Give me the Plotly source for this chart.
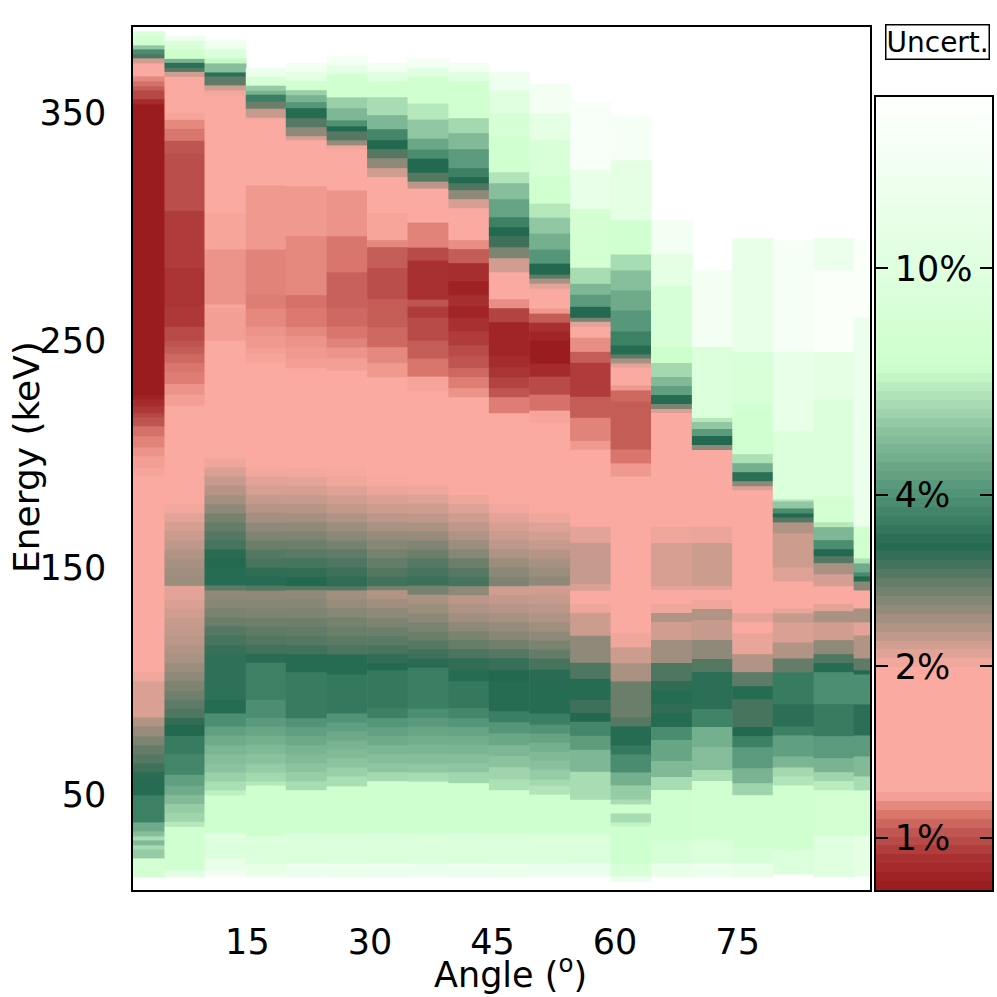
import numpy as np
import plotly.graph_objects as go

# angle bin edges (deg), first and last get clipped by the axis range
ANGLE_EDGES = [-0.2, 4.85, 9.75, 14.8, 19.7, 24.7, 29.65, 34.6, 39.6, 44.55, 49.5, 54.5,
               59.45, 64.4, 69.4, 74.35, 79.3, 84.3, 89.2, 94.2]

E0 = [386,384,380,378,376,374,372,366,364,362,360,356,354,226,224,221,218,216,212,208,203,199,194,190,104,100,84,80,76,72,68,64,60,56,50,38,34,32,30,28,26,22,14]
U0 = [9,7,5.2,3.8,2.9,2.15,1.5,1.12,1.07,1.02,.96,.87,.81,.83,.88,.92,.96,1.0,1.07,1.11,1.14,1.16,1.17,1.5,2.0,2.1,2.3,2.45,2.6,2.75,2.85,3.0,3.15,3.25,3.6,4.5,5.0,5.7,4.9,5.7,5.3,7.5]

E1 = [384,382,378,374,372,370,368,366,364,350,347,343,338,332,307,282,265,256,250,247,244,240,236,231,226,221,178,174,170,166,162,158,154,150,146,142,140,136,132,128,124,120,116,112,108,104,100,96,92,88,84,81,76,68,59,54,50,46,42,38,36,17,14]
U1 = [14,9,6.6,4.7,3.3,2.85,2.15,1.95,1.5,1.17,1.12,1.08,1.0,.98,.93,.91,.92,.97,1.0,1.02,1.05,1.08,1.1,1.14,1.16,1.5,1.98,2.05,2.12,2.18,2.24,2.3,2.36,2.4,2.42,2.05,2.05,2.1,2.15,2.2,2.22,2.26,2.3,2.35,2.42,2.5,2.6,2.68,2.8,2.9,3.1,3.2,3.5,3.7,4.2,4.5,4.9,5.3,5.5,6.0,7,10]

E2 = [382,378,374,372,368,366,362,360,358,306,290,266,264,250,198,194,190,186,182,178,174,170,166,162,158,154,150,146,142,140,136,132,128,124,120,116,112,92,86,80,76,72,68,64,60,56,52,50,33,31,22,17,14]
U2 = [14,9,6.4,5,3.3,2.8,2.15,1.98,1.5,1.17,1.14,1.17,1.16,1.5,2.0,2.1,2.2,2.28,2.38,2.5,2.65,2.75,2.85,2.95,3.15,3.22,3.25,3.25,2.8,2.5,2.55,2.62,2.72,2.85,2.95,3.05,3.35,3.25,3.85,4.2,4.5,4.75,4.95,5.1,5.4,5.75,6.2,6.8,11,9,12,15]

E3 = [370,366,362,360,358,355,352,348,347,318,290,270,264,256,252,247,244,240,194,190,186,182,178,174,170,166,162,158,154,150,146,142,140,136,132,128,124,120,116,112,108,92,84,80,76,72,68,64,60,56,54,32,20,14]
U3 = [13,8,5.3,4.7,3.55,2.7,2.2,1.98,1.5,1.15,1.11,1.1,1.12,1.14,1.15,1.16,1.17,1.5,1.98,2.05,2.12,2.2,2.28,2.38,2.5,2.6,2.72,2.85,2.95,3.1,3.25,2.85,2.5,2.55,2.6,2.7,2.8,2.88,2.98,3.15,3.6,3.85,4.1,4.35,4.6,4.85,5.05,5.3,5.6,6.0,6.8,9,12]

E4 = [372,368,364,360,358,355,352,348,344,340,338,318,296,270,264,256,252,247,242,238,194,190,186,182,178,174,170,166,162,158,154,150,146,142,140,136,132,128,124,120,116,112,104,84,80,76,72,68,64,60,56,52,33,20,14]
U4 = [15,11,7,5.4,4.7,4,3.25,2.85,2.5,2.12,1.5,1.15,1.12,1.07,1.09,1.12,1.14,1.15,1.16,1.5,1.98,2.05,2.12,2.2,2.28,2.38,2.48,2.58,2.7,2.82,2.95,3.1,3.2,2.85,2.5,2.55,2.6,2.7,2.78,2.86,2.98,3.25,3.5,3.95,4.2,4.45,4.7,4.9,5.1,5.35,5.7,6.8,9,13]

E5 = [375,371,367,357,352,347,344,342,338,336,334,316,296,280,264,256,251,247,242,237,194,190,186,182,178,174,170,166,162,158,154,150,146,142,140,136,132,128,124,120,116,112,103,86,82,78,74,70,66,62,58,54,33,20,14]
U5 = [15,11,7,5.4,4.8,3.9,3.2,2.85,2.45,2.0,1.5,1.14,1.08,1.03,1.05,1.08,1.11,1.14,1.16,1.5,1.96,2.0,2.08,2.15,2.22,2.32,2.42,2.52,2.65,2.78,2.9,3.0,3.1,2.85,2.4,2.45,2.55,2.65,2.72,2.82,2.92,3.25,3.45,3.95,4.2,4.45,4.7,4.9,5.1,5.4,5.75,6.8,9,13]

E6 = [372,368,364,357,349,343,338,334,330,326,322,306,294,291,282,268,264,256,247,240,234,190,186,182,178,174,170,166,162,158,154,150,146,142,140,136,132,128,124,120,116,112,108,105,88,84,80,76,72,68,64,60,56,33,20,14]
U6 = [15,10,7,5.7,4.8,3.7,3.2,2.85,2.5,2.15,1.5,1.17,1.12,1.02,.98,1.02,1.02,1.05,1.12,1.15,1.5,1.96,2.02,2.1,2.17,2.25,2.35,2.45,2.55,2.65,2.75,2.88,2.98,2.65,2.3,2.4,2.5,2.6,2.7,2.82,2.95,3.1,3.2,3.45,3.6,4,4.25,4.5,4.75,4.95,5.15,5.6,6.8,9,13]

E7 = [374,370,366,354,347,339,334,330,324,320,317,302,291,285,278,268,265,260,250,242,234,228,186,182,178,174,170,166,162,158,154,150,146,142,138,134,130,126,122,118,114,110,106,88,84,80,76,72,68,64,60,56,33,20,14]
U7 = [15,10,7,6,5.2,4.4,3.8,3.2,2.85,2.25,1.5,1.11,.97,.9,.9,1.0,.93,.97,1.02,1.08,1.17,1.5,2.0,2.08,2.16,2.24,2.34,2.45,2.58,2.72,2.85,2.95,3.02,2.65,2.35,2.42,2.52,2.62,2.72,2.85,3.0,3.15,3.55,3.85,4.1,4.35,4.55,4.75,4.95,5.2,5.7,6.8,9,13]

E8 = [372,368,364,348,341,334,326,322,319,316,312,308,294,290,284,276,270,265,260,254,248,243,238,234,229,225,182,178,174,170,166,162,158,154,150,146,142,138,134,130,126,122,118,114,110,105,100,88,84,80,76,72,68,64,60,55,33,20,14]
U8 = [15,10,7,5.6,4.9,4.1,3.6,3.2,2.9,2.5,2.12,1.5,1.13,1.02,.89,.83,.89,.85,.9,.93,.97,1.0,1.05,1.1,1.14,1.5,2.0,2.08,2.16,2.24,2.32,2.42,2.55,2.7,2.85,2.95,2.5,2.25,2.32,2.4,2.5,2.62,2.75,2.92,3.1,3.25,3.45,3.7,4,4.3,4.55,4.75,4.95,5.15,5.55,6.8,9,13]

E9 = [368,360,350,340,324,319,312,304,300,296,291,286,280,268,264,258,254,243,238,234,229,225,218,178,174,170,166,162,158,154,150,146,142,138,134,130,126,122,118,114,110,105,100,87,82,77,72,67,62,57,52,33,20,14]
U9 = [14,10,8,7,5.9,5,4.3,3.6,3.2,3,2.6,2.15,1.5,1.13,.95,.85,.85,.88,.91,.95,1.0,1.1,1.5,1.98,2.05,2.12,2.18,2.24,2.32,2.42,2.52,2.6,2.15,2.22,2.28,2.36,2.45,2.55,2.68,2.85,3.05,3.2,3.25,3.55,4.0,4.4,4.8,5.1,5.5,5.8,6.8,9,13]

E10 = [363,350,338,322,310,304,297,290,284,279,277,275,273,264,262,258,254,250,240,234,226,219,214,174,170,166,162,158,154,150,146,142,138,134,130,126,122,118,114,110,105,100,86,81,77,73,69,65,61,57,54,50,33,20,14]
U10 = [15,11,8.5,7,6,5.2,4.6,4,3.2,2.8,2.35,2.05,1.5,1.15,1.02,.9,.85,.81,.87,.97,1.07,1.17,1.5,2.0,2.08,2.14,2.2,2.28,2.36,2.42,2.5,2.15,2.2,2.26,2.32,2.4,2.5,2.62,2.75,2.95,3.15,3.25,3.55,3.95,4.3,4.6,4.85,5.05,5.3,5.6,5.9,6.8,9,13]

E11 = [355,325,308,282,275,270,265,260,258,256,251,245,240,225,216,206,202,168,161,143,140,134,130,120,108,101,92,86,82,76,70,60,48,33,20,14]
U11 = [17,12,7.5,5.7,4.8,4.1,3.2,2.6,2.05,1.5,1.13,1.02,.93,1.02,1.11,1.15,1.5,2.05,2.2,2.1,1.8,2.0,2.17,2.5,2.9,3.25,3,3.2,3.7,4.15,4.8,5.7,6.8,9,13]

E12 = [349,329,303,288,281,272,263,254,248,244,242,240,238,230,228,223,202,196,190,127,121,115,108,100,84,80,72,68,60,54,48,46,42,38,36,20,14,12]
U12 = [16,11,7,5.7,5,4.5,4.05,3.6,3.25,2.8,2.35,2.05,1.5,1.15,1.05,1.02,1.08,1.15,1.6,1.95,2.0,2.17,2.35,2.72,2.85,3.25,3.45,3.8,4.6,5.3,5.7,6.8,5.7,6.3,6.8,8.5,13]

E13 = [303,288,274,247,240,234,230,226,222,220,218,202,198,168,161,142,140,134,130,126,118,108,100,96,90,86,80,74,65,58,52,30,20,14]
U13 = [15,11,8,6.6,5.6,4.9,4.2,3.25,2.6,2.1,1.5,1.18,1.5,2.0,2.12,2.05,1.85,2.0,2.3,2.15,2.4,2.9,3.1,3.25,3.1,3.25,3.8,4.35,4.85,5.7,6.8,8,12]

E14 = [281,247,216,214,211,208,204,202,168,161,142,140,136,132,127,118,110,104,88,80,71,61,56,30,20,14]
U14 = [15,9,6,5.2,4.1,3.2,2.5,1.5,2.02,2.17,2.05,1.85,2.0,2.3,2.2,2.5,2.85,3.3,3.65,4.6,4.95,5.7,7,9,13]

E15 = [295,245,222,200,196,192,188,186,184,167,155,130,126,121,112,104,98,92,80,76,71,62,55,50,27,20,14]
U15 = [12,8.5,7,5.8,4.6,3.3,2.5,2.1,1.5,1.95,1.6,2.05,1.95,2.03,2.3,2.8,3.25,2.95,3.2,3.6,4.1,4.7,5.5,7,8,12]

E16 = [294,245,210,180,179,176,174,172,170,165,150,144,132,130,126,117,110,104,90,80,76,67,62,58,54,26,15]
U16 = [16,12,9,6,5.2,3.8,3.2,2.85,2.3,2.17,2.08,1.5,2.03,2.2,2.1,2.3,2.75,3.5,3.3,3.6,4.2,4.75,5.6,5.9,7,9]

E17 = [295,281,245,224,181,170,168,162,158,155,152,147,142,134,131,126,118,112,108,104,90,76,66,60,56,52,32,14]
U17 = [13,18,11,9,7.5,6,4.8,3.85,3.2,2.85,2.35,2.13,1.5,2.05,2.35,2.15,2.5,2.9,3.25,3.85,3.5,4.1,4.7,5.5,6.1,7.5,10]

E18 = [294,260,168,154,152,148,146,144,140,132,126,120,110,105,103,90,76,67,58,52,32,14]
U18 = [18,13,7,5.8,4.5,3.75,3.2,2.55,1.5,2.35,2.05,2.3,2.8,3.2,3.85,3.3,4.1,4.9,5.7,7.5,11]

COLUMN_EDGES = [E0,E1,E2,E3,E4,E5,E6,E7,E8,E9,E10,E11,E12,E13,E14,E15,E16,E17,E18]
COLUMN_UNCERT = [U0,U1,U2,U3,U4,U5,U6,U7,U8,U9,U10,U11,U12,U13,U14,U15,U16,U17,U18]

# colour scale: percent -> colour
SCALE_PCT = [0.81, 0.9, 1.0, 1.1, 1.18, 1.95, 3.2, 4.0, 5.0, 6.6, 12, 20]
SCALE_RGB = ["rgb(155,28,31)", "rgb(168,48,48)", "rgb(190,85,80)", "rgb(222,125,115)",
             "rgb(250,170,160)", "rgb(250,170,160)", "rgb(35,105,80)", "rgb(85,150,120)",
             "rgb(135,190,155)", "rgb(205,255,205)", "rgb(232,255,232)", "rgb(255,255,255)"]

CB_TICKS = [1, 2, 4, 10]
CB_LABELS = ["1%", "2%", "4%", "10%"]

X_TICKS = [15, 30, 45, 60, 75]
Y_TICKS = [50, 150, 250, 350]

lo, hi = np.log10(SCALE_PCT[0]), np.log10(SCALE_PCT[-1])
colorscale = [[(np.log10(p) - lo) / (hi - lo), c] for p, c in zip(SCALE_PCT, SCALE_RGB)]

FONT = dict(family="DejaVu Sans", color="black")
W, H = 997, 997

fig = go.Figure()

for i, (edges, vals) in enumerate(zip(COLUMN_EDGES, COLUMN_UNCERT)):
    assert len(edges) == len(vals) + 1, i
    # small overlap to the right, otherwise hairline gaps show between columns
    fig.add_trace(go.Heatmap(
        x=[ANGLE_EDGES[i], ANGLE_EDGES[i + 1] + 0.1],
        y=edges[::-1],
        z=[[np.log10(v)] for v in vals[::-1]],
        coloraxis="coloraxis",
        xaxis="x",
        yaxis="y",
    ))

# colour bar drawn as its own little heatmap so ticks and labels sit inside it
bar_levels = np.logspace(lo, hi, 90)
fig.add_trace(go.Heatmap(
    x=[0, 1],
    y=bar_levels,
    z=[[np.log10(v)] for v in bar_levels[:-1]],
    coloraxis="coloraxis",
    xaxis="x2",
    yaxis="y2",
))

fig.update_layout(
    width=W,
    height=H,
    margin=dict(l=0, r=0, t=0, b=0),
    paper_bgcolor="white",
    plot_bgcolor="white",
    showlegend=False,
    coloraxis=dict(colorscale=colorscale, cmin=lo, cmax=hi, showscale=False),
    xaxis=dict(
        domain=[133 / W, 870 / W], range=[1.0, 91.2],
        tickvals=X_TICKS, ticks="outside", ticklen=20, tickcolor="rgba(0,0,0,0)",
        tickfont=dict(size=35, **FONT),
        showgrid=False, zeroline=False,
        showline=True, linecolor="black", linewidth=1.5, mirror=True,
    ),
    yaxis=dict(
        domain=[1 - 890 / H, 1 - 27 / H], range=[8.2, 387.9],
        tickvals=Y_TICKS, ticks="outside", ticklen=18, tickcolor="rgba(0,0,0,0)",
        tickfont=dict(size=35, **FONT),
        showgrid=False, zeroline=False,
        showline=True, linecolor="black", linewidth=1.5, mirror=True,
    ),
    xaxis2=dict(
        domain=[876 / W, 992 / W], range=[0, 1], anchor="y2",
        showticklabels=False, ticks="", showgrid=False, zeroline=False,
        showline=True, linecolor="black", linewidth=1.5, mirror=True,
    ),
    yaxis2=dict(
        domain=[1 - 890 / H, 1 - 97 / H], range=[lo, hi], type="log", anchor="x2",
        tickvals=CB_TICKS, ticktext=CB_LABELS, ticks="inside", ticklen=12,
        tickcolor="black", tickwidth=1.5,
        ticklabelposition="inside", ticklabelstandoff=11, tickfont=dict(size=35, **FONT),
        showgrid=False, zeroline=False,
        showline=True, linecolor="black", linewidth=1.5, mirror="ticks",
    ),
    annotations=[
        dict(text="Angle (<sup>o</sup>)", x=511 / W, y=1 - 972 / H, xref="paper", yref="paper",
             xanchor="center", yanchor="middle",
             showarrow=False, font=dict(size=35, **FONT)),
        dict(text="Energy (keV)", x=27 / W, y=1 - 457 / H, xref="paper", yref="paper",
             xanchor="center", yanchor="middle",
             textangle=-90, showarrow=False, font=dict(size=36, **FONT)),
        dict(text="Uncert.", x=937 / W, y=1 - 42 / H, xref="paper", yref="paper",
             xanchor="center", yanchor="middle",
             showarrow=False, font=dict(size=28, **FONT),
             bordercolor="black", borderwidth=1.5, borderpad=0, bgcolor="white"),
    ],
)

fig.write_html("out.html", config=dict(displayModeBar=False),
               post_script="document.body.style.margin='0';")
